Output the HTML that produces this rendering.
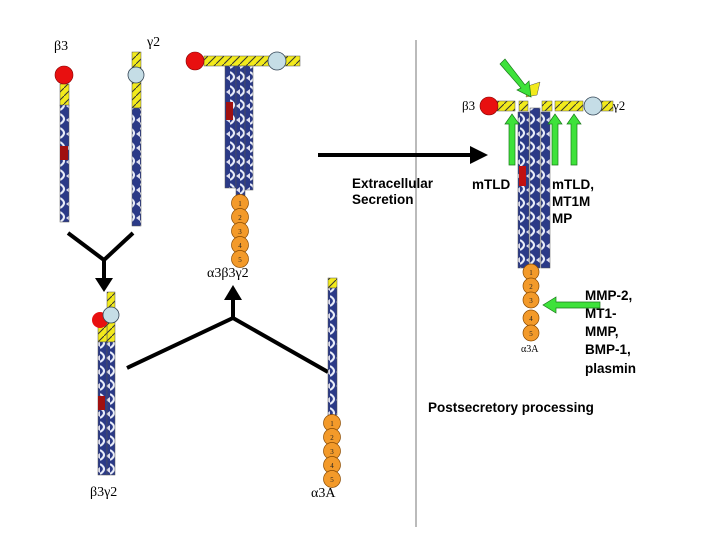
<!DOCTYPE html>
<html><head><meta charset="utf-8"><style>
html,body{margin:0;padding:0;background:#fff;}
svg{display:block;}
text{font-family:"Liberation Serif",serif;}
.b{font-family:"Liberation Sans",sans-serif;font-weight:bold;font-size:13.5px;}
</style></head><body>
<svg width="720" height="540" viewBox="0 0 720 540" xmlns="http://www.w3.org/2000/svg">
<defs>
<pattern id="rod" width="10" height="14" patternUnits="userSpaceOnUse">
<rect width="10" height="14" fill="#2b3a87"/>
<path d="M0 2 Q8 7 0 12" stroke="#e8ecf8" stroke-width="2.2" fill="none"/>
<path d="M10 5 L6 8 L10 11Z" fill="#dde"/>
</pattern>
<pattern id="yel" width="8" height="8" patternUnits="userSpaceOnUse">
<rect width="8" height="8" fill="#f2ea1c"/>
<path d="M0 8 L8 0" stroke="#333" stroke-width="1"/>
</pattern>
</defs>

<line x1="416" y1="40" x2="416" y2="527" stroke="#777" stroke-width="1"/>

<text x="54" y="50" font-size="14">β3</text>
<rect x="60" y="84" width="9" height="22" fill="url(#yel)" stroke="#555" stroke-width=".5"/>
<rect x="60" y="105" width="9" height="117" fill="url(#rod)" stroke="#555" stroke-width=".5"/>
<rect x="60" y="146" width="8" height="14" fill="#a01010"/>
<circle cx="64" cy="75" r="9" fill="#e81010" stroke="#800" stroke-width=".6"/>
<text x="147" y="46" font-size="14">γ2</text>
<rect x="132" y="52" width="9" height="56" fill="url(#yel)" stroke="#555" stroke-width=".5"/>
<rect x="132" y="108" width="9" height="118" fill="url(#rod)" stroke="#555" stroke-width=".5"/>
<circle cx="136" cy="75" r="8" fill="#c5dde6" stroke="#345" stroke-width=".8"/>

<polyline points="68,233 104,260 133,233" fill="none" stroke="#000" stroke-width="4"/>
<line x1="104" y1="258" x2="104" y2="280" stroke="#000" stroke-width="4"/>
<path d="M95 278 L113 278 L104 292Z" fill="#000"/>

<rect x="107" y="292" width="8" height="50" fill="url(#yel)" stroke="#555" stroke-width=".5"/>
<rect x="98" y="320" width="9" height="22" fill="url(#yel)" stroke="#555" stroke-width=".5"/>
<rect x="98" y="342" width="9" height="133" fill="url(#rod)" stroke="#555" stroke-width=".5"/>
<rect x="107" y="342" width="8" height="133" fill="url(#rod)" stroke="#555" stroke-width=".5"/>
<rect x="98" y="396" width="7" height="14" fill="#a01010"/>
<circle cx="100" cy="320" r="8" fill="#e81010"/>
<circle cx="111" cy="315" r="8" fill="#c5dde6" stroke="#345" stroke-width=".8"/>
<text x="90" y="496" font-size="14">β3γ2</text>

<rect x="204" y="56" width="96" height="10" fill="url(#yel)" stroke="#555" stroke-width=".5"/>
<rect x="225" y="66" width="11" height="122" fill="url(#rod)" stroke="#555" stroke-width=".5"/>
<rect x="236" y="66" width="9" height="130" fill="url(#rod)" stroke="#555" stroke-width=".5"/>
<rect x="245" y="66" width="8" height="124" fill="url(#rod)" stroke="#555" stroke-width=".5"/>
<rect x="226" y="102" width="7" height="18" fill="#a01010"/>
<circle cx="195" cy="61" r="9" fill="#e81010" stroke="#800" stroke-width=".6"/>
<circle cx="277" cy="61" r="9" fill="#c5dde6" stroke="#345" stroke-width=".8"/>
<g fill="#f39a2a" stroke="#8a4a00" stroke-width=".7">
<circle cx="240" cy="203" r="8.5"/><circle cx="240" cy="217" r="8.5"/><circle cx="240" cy="231" r="8.5"/><circle cx="240" cy="245" r="8.5"/><circle cx="240" cy="259" r="8.5"/></g>
<g font-size="7" text-anchor="middle" fill="#222"><text x="240" y="206">1</text><text x="240" y="220">2</text><text x="240" y="234">3</text><text x="240" y="248">4</text><text x="240" y="262">5</text></g>
<text x="207" y="277" font-size="14">α3β3γ2</text>

<polyline points="127,368 233,318 328,372" fill="none" stroke="#000" stroke-width="4"/>
<line x1="233" y1="318" x2="233" y2="298" stroke="#000" stroke-width="4"/>
<path d="M224 300 L242 300 L233 285Z" fill="#000"/>

<rect x="328" y="278" width="9" height="10" fill="url(#yel)" stroke="#555" stroke-width=".5"/>
<rect x="328" y="288" width="9" height="127" fill="url(#rod)" stroke="#555" stroke-width=".5"/>
<g fill="#f39a2a" stroke="#8a4a00" stroke-width=".7">
<circle cx="332" cy="423" r="8.5"/><circle cx="332" cy="437" r="8.5"/><circle cx="332" cy="451" r="8.5"/><circle cx="332" cy="465" r="8.5"/><circle cx="332" cy="479" r="8.5"/></g>
<g font-size="7" text-anchor="middle" fill="#222"><text x="332" y="426">1</text><text x="332" y="440">2</text><text x="332" y="454">3</text><text x="332" y="468">4</text><text x="332" y="482">5</text></g>
<text x="311" y="497" font-size="14">α3A</text>

<line x1="318" y1="155" x2="472" y2="155" stroke="#000" stroke-width="4"/>
<path d="M470 146 L488 155 L470 164Z" fill="#000"/>
<text class="b" x="352" y="188">Extracellular</text>
<text class="b" x="352" y="204">Secretion</text>

<text x="462" y="110" font-size="13">β3</text>
<text x="613" y="110" font-size="13">γ2</text>
<g fill="url(#yel)" stroke="#555" stroke-width=".5">
<rect x="497" y="101" width="18" height="10"/><rect x="519" y="101" width="9" height="10"/>
<rect x="542" y="101" width="10" height="10"/><rect x="555" y="101" width="28" height="10"/>
<rect x="601" y="101" width="12" height="10"/></g>
<path d="M528 86 L540 82 L537 95 L526 97Z" fill="#f2ea1c" stroke="#555" stroke-width=".5"/>
<rect x="518" y="112" width="11" height="156" fill="url(#rod)" stroke="#555" stroke-width=".5"/>
<rect x="530" y="108" width="10" height="160" fill="url(#rod)" stroke="#555" stroke-width=".5"/>
<rect x="541" y="112" width="9" height="156" fill="url(#rod)" stroke="#555" stroke-width=".5"/>
<rect x="519" y="166" width="7" height="20" fill="#c01010"/>
<circle cx="489" cy="106" r="9" fill="#e81010" stroke="#800" stroke-width=".6"/>
<circle cx="593" cy="106" r="9" fill="#c5dde6" stroke="#345" stroke-width=".8"/>
<g fill="#3ee23a" stroke="#1a7a1a" stroke-width=".7">
<path d="M509 165 L515 165 L515 124 L519 124 L512 114 L505 124 L509 124Z"/>
<path d="M552 165 L558 165 L558 124 L562 124 L555 114 L548 124 L552 124Z"/>
<path d="M571 165 L577 165 L577 124 L581 124 L574 114 L567 124 L571 124Z"/>
<path d="M500 64 L505 59 L525 85 L529 81 L531 97 L517 90 L521 88Z"/>
<path d="M600 302 L600 308 L556 308 L556 313 L543 305 L556 297 L556 302Z"/>
</g>
<text class="b" x="472" y="189">mTLD</text>
<text class="b" x="552" y="189">mTLD,</text>
<text class="b" x="552" y="206">MT1M</text>
<text class="b" x="552" y="223">MP</text>
<g fill="#f39a2a" stroke="#8a4a00" stroke-width=".7">
<circle cx="531" cy="272" r="8"/><circle cx="531" cy="286" r="8"/><circle cx="531" cy="300" r="8"/><circle cx="531" cy="318" r="8"/><circle cx="531" cy="333" r="8"/></g>
<g font-size="7" text-anchor="middle" fill="#222"><text x="531" y="275">1</text><text x="531" y="289">2</text><text x="531" y="303">3</text><text x="531" y="321">4</text><text x="531" y="336">5</text></g>
<text x="521" y="352" font-size="10">α3A</text>
<text class="b" x="585" y="300">MMP-2,</text>
<text class="b" x="585" y="318">MT1-</text>
<text class="b" x="585" y="336">MMP,</text>
<text class="b" x="585" y="354">BMP-1,</text>
<text class="b" x="585" y="373">plasmin</text>
<text class="b" x="428" y="412">Postsecretory processing</text>
</svg>
</body></html>
